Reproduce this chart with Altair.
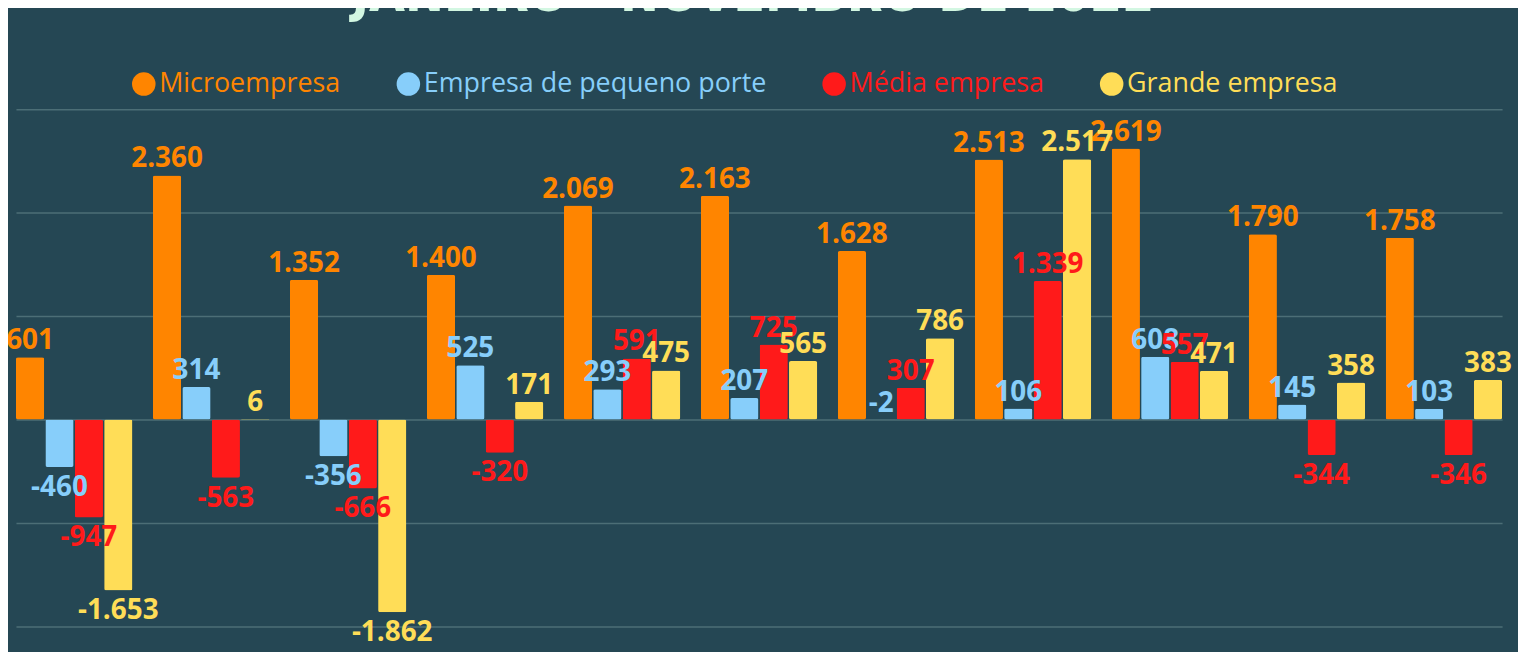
import altair as alt
import pandas as pd

months = ["Jan", "Fev", "Mar", "Abr", "Mai", "Jun", "Jul", "Ago", "Set", "Out", "Nov"]
series = ["Microempresa", "Empresa de pequeno porte", "Média empresa", "Grande empresa"]
colors = ["#FF8500", "#87CEFA", "#FF1A1A", "#FFDD57"]

micro = [601, 2360, 1352, 1400, 2069, 2163, 1628, 2513, 2619, 1790, 1758]
pequeno = [-460, 314, -356, 525, 293, 207, -2, 106, 608, 145, 103]
media = [-947, -563, -666, -320, 591, 725, 307, 1339, 557, -344, -346]
grande = [-1653, 6, -1862, 171, 475, 565, 786, 2517, 471, 358, 383]

rows = []
for s, vals in zip(series, [micro, pequeno, media, grande]):
    for m, v in zip(months, vals):
        rows.append({"mes": m, "porte": s, "saldo": v,
                     "rotulo": f"{v:,}".replace(",", ".")})
df = pd.DataFrame(rows)

color_expr = ("datum.value === 'Microempresa' ? '#FF8500' : "
              "datum.value === 'Empresa de pequeno porte' ? '#87CEFA' : "
              "datum.value === 'Média empresa' ? '#FF1A1A' : '#FFDD57'")

x = alt.X("mes:N", sort=months, axis=None,
          scale=alt.Scale(paddingInner=0.15, paddingOuter=0))
xo = alt.XOffset("porte:N", sort=series,
                 scale=alt.Scale(paddingInner=0.04, paddingOuter=0))
y = alt.Y("saldo:Q", scale=alt.Scale(domain=[-2000, 3000], nice=False),
          axis=alt.Axis(values=[-2000, -1000, 0, 1000, 2000, 3000], labels=False,
                        ticks=False, domain=False, title=None,
                        gridColor="#4C6E76", gridWidth=1.5))
col = alt.Color("porte:N", sort=series,
                scale=alt.Scale(domain=series, range=colors),
                legend=alt.Legend(orient="none", legendX=115, legendY=-39,
                                  direction="horizontal", columns=4, title=None,
                                  symbolType="circle", symbolSize=560,
                                  symbolStrokeWidth=0, symbolOpacity=1,
                                  labelFont="Open Sans", labelFontSize=27,
                                  labelLimit=400, labelOffset=2,
                                  columnPadding=54,
                                  labelColor=alt.ExprRef(color_expr)))
col_nolegend = alt.Color("porte:N", sort=series,
                         scale=alt.Scale(domain=series, range=colors), legend=None)

base = alt.Chart(df)
bars = base.mark_bar(cornerRadius=2).encode(x=x, xOffset=xo, y=y, color=col)

lab_kw = dict(font="Open Sans", fontWeight="bold", fontSize=28, align="center")
pos = base.transform_filter("datum.saldo >= -10").mark_text(
    baseline="bottom", dy=-2, **lab_kw).encode(
    x=x, xOffset=xo, y="saldo:Q", text="rotulo:N", color=col_nolegend)
neg = base.transform_filter("datum.saldo < -10").mark_text(
    baseline="top", dy=7, **lab_kw).encode(
    x=x, xOffset=xo, y="saldo:Q", text="rotulo:N", color=col_nolegend)

chart = alt.layer(bars, pos, neg).properties(
    width=1494, height=520,
    background="#254754",
    padding={"left": 8, "top": 100, "right": 16, "bottom": 24},
    autosize=alt.AutoSizeParams(type="none"),
    title=alt.TitleParams("JANEIRO - NOVEMBRO DE 2022",
                          font="DejaVu Sans Condensed, Roboto Condensed, Roboto, sans-serif",
                          fontSize=52, fontWeight="bold", color="#D3F7E2",
                          anchor="middle", baseline="alphabetic", offset=8, dx=-6),
).configure_view(stroke=None)

chart.save("out.html", embed_options={"renderer": "svg", "actions": False})
